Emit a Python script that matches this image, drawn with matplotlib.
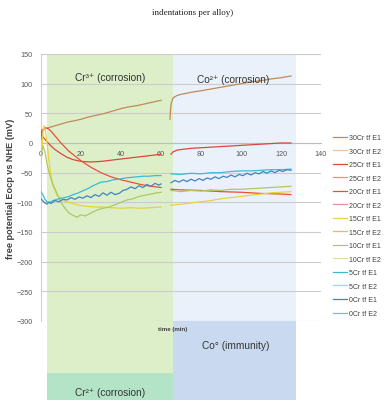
import numpy as np
import matplotlib
matplotlib.use("Agg")
import matplotlib.pyplot as plt
from matplotlib.patches import Rectangle

# ---------------- data ----------------
series_labels = ["30Cr tf E1", "30Cr tf E2", "25Cr tf E1", "25Cr tf E2",
                 "20Cr tf E1", "20Cr tf E2", "15Cr tf E1", "15Cr tf E2",
                 "10Cr tf E1", "10Cr tf E2", "5Cr tf E1", "5Cr tf E2",
                 "0Cr tf E1", "0Cr tf E2"]

# 30Cr tf E1 (two measurement segments)
cr30_e1_t1 = [0, 0.5, 1, 2, 3, 5, 8, 10, 13, 16, 20, 24, 28, 32, 36, 40, 44, 48, 52, 56, 60]
cr30_e1_v1 = [5, 18, 22, 24, 25, 27, 30, 32, 35, 37, 40, 44, 47, 50, 54, 58, 61, 63, 66, 69, 72]
cr30_e1_t2 = [64.5, 64.8, 65.2, 65.7, 66, 67, 68, 70, 73, 76, 80, 85, 90, 95, 100, 105, 110, 115, 120, 125]
cr30_e1_v2 = [40, 58, 68, 73, 76, 78, 80, 82, 84, 86, 88, 91, 94, 97, 100, 103, 105, 108, 110, 113]

# 25Cr tf E1
cr25_e1_t1 = [0, 0.5, 1, 2, 3, 5, 7, 10, 13, 16, 20, 25, 30, 35, 40, 45, 50, 55, 60]
cr25_e1_v1 = [22, 15, 10, 6, 2, -5, -11, -18, -24, -28, -31, -32, -31, -29, -27, -25, -23, -21, -19]
cr25_e1_t2 = [65, 66, 68, 70, 75, 80, 85, 90, 95, 100, 105, 110, 115, 120, 125]
cr25_e1_v2 = [-19, -15, -12, -11, -9, -8, -7, -6, -5, -4, -3, -2, -1, 0, 0]

# 20Cr tf E1
cr20_e1_t1 = [0, 0.5, 1, 2, 3, 4, 5, 6, 8, 10, 12, 14, 17, 20, 25, 30, 35, 40, 45, 50, 55, 60]
cr20_e1_v1 = [12, 18, 23, 26, 25, 23, 20, 16, 8, 0, -7, -14, -22, -30, -41, -50, -57, -62, -66, -70, -73, -75]
cr20_e1_t2 = [65, 70, 80, 90, 100, 110, 120, 125]
cr20_e1_v2 = [-78, -79, -80, -82, -83, -85, -86, -87]

# 15Cr tf E1
cr15_e1_t1 = [0, 0.5, 1, 1.5, 2, 3, 4, 5, 6, 8, 10, 12, 15, 18, 21, 24, 27, 30, 35, 40, 45, 50, 55, 60]
cr15_e1_v1 = [-35, -10, 20, 29, 25, 0, -30, -55, -72, -88, -94, -98, -101, -104, -106, -107, -108, -108,
              -109, -110, -109, -110, -109, -108]
cr15_e1_t2 = [65, 70, 75, 80, 85, 90, 95, 100, 105, 110, 115, 120, 125]
cr15_e1_v2 = [-105, -103, -101, -99, -97, -94, -92, -90, -88, -86, -84, -83, -82]

# 10Cr tf E1
cr10_e1_t1 = [0, 1, 2, 3, 4, 6, 8, 10, 12, 14, 16, 18, 20, 22, 25, 28, 31, 34, 37, 40, 43, 46, 49, 52, 55, 58, 60]
cr10_e1_v1 = [-20, -5, -15, -35, -50, -70, -85, -100, -110, -118, -122, -125, -121, -123, -118, -113, -110,
              -108, -104, -100, -96, -94, -90, -88, -86, -84, -83]
cr10_e1_t2 = [65, 70, 75, 80, 85, 90, 95, 100, 105, 110, 115, 120, 125]
cr10_e1_v2 = [-80, -82, -80, -81, -79, -80, -78, -78, -77, -76, -75, -74, -73]

# 5Cr tf E1
cr5_e1_t1 = [0, 1, 2, 3, 4, 5, 6, 8, 10, 12, 14, 16, 18, 20, 22, 24, 26, 28, 30, 33, 36, 39, 42, 45, 48, 51, 54, 57, 60]
cr5_e1_v1 = [-82, -88, -95, -99, -100, -99, -97, -95, -93, -92, -90, -87, -85, -82, -79, -76, -72, -69, -66,
             -65, -62, -61, -59, -58, -57, -56, -56, -55, -55]
cr5_e1_t2 = [65, 70, 75, 80, 85, 90, 95, 100, 105, 110, 115, 120, 125]
cr5_e1_v2 = [-52, -53, -51, -52, -50, -50, -48, -47, -47, -46, -45, -45, -44]

# 0Cr tf E1
cr0_e1_t1 = [0, 1, 2, 3, 4, 5, 7, 9, 11, 13, 15, 17, 19, 21, 23, 25, 27, 29, 31, 33, 35, 37, 39, 41, 43, 45,
             47, 49, 51, 53, 55, 57, 59, 60]
cr0_e1_v1 = [-94, -98, -101, -103, -100, -102, -97, -99, -95, -96, -92, -95, -91, -93, -89, -92, -87, -90,
             -84, -88, -83, -87, -85, -80, -78, -74, -77, -72, -75, -70, -73, -68, -71, -69]
cr0_e1_t2 = [65, 67, 69, 71, 73, 75, 77, 79, 81, 83, 85, 87, 89, 91, 93, 95, 97, 99, 101, 103, 105, 107,
             109, 111, 113, 115, 117, 119, 121, 123, 125]
cr0_e1_v2 = [-67, -63, -66, -62, -65, -61, -64, -60, -63, -59, -61, -57, -60, -56, -58, -54, -57, -53,
             -55, -51, -54, -50, -52, -48, -51, -47, -50, -46, -48, -45, -46]

xticks = [0, 20, 40, 60, 80, 100, 120, 140]
yticks = [-300, -250, -200, -150, -100, -50, 0, 50, 100, 150]

# ---------------- figure ----------------
W, H = 389, 406
fig = plt.figure(figsize=(W / 100, H / 100), dpi=100)
ax = fig.add_axes([41 / W, 1 - 322 / H, 280 / W, 267 / H])
ax.set_xlim(0, 140)
ax.set_ylim(-300, 150)

SANS = ["Liberation Sans", "DejaVu Sans"]

# region shading
ax.add_patch(Rectangle((3, -388), 63, 538, facecolor="#dcefc8", edgecolor="none", zorder=0.5, clip_on=False))
ax.add_patch(Rectangle((3, -433), 63, 45, facecolor="#b4e4c8", edgecolor="none", zorder=0.5, clip_on=False))
ax.add_patch(Rectangle((66, -300), 61.5, 450, facecolor="#eaf1fb", edgecolor="none", zorder=0.5, clip_on=False))
ax.add_patch(Rectangle((66, -433), 61.5, 133, facecolor="#c9d9ef", edgecolor="none", zorder=0.5, clip_on=False))

# gridlines
ax.set_yticks(yticks)
ax.set_xticks(xticks)
ax.yaxis.grid(True, color="#cccccc", linewidth=0.8, zorder=1)
ax.set_axisbelow("line")

for s in ["top", "right"]:
    ax.spines[s].set_visible(False)
ax.spines["bottom"].set_position(("data", 0))
ax.spines["bottom"].set_color("#bdbdbd")
ax.spines["bottom"].set_linewidth(0.8)
ax.spines["left"].set_color("#cfcfcf")
ax.spines["left"].set_linewidth(0.8)

ax.tick_params(axis="both", length=0, labelsize=5.2, labelcolor="#595959")
ax.tick_params(axis="y", pad=6)
ax.tick_params(axis="x", pad=5)
for lab in ax.get_xticklabels() + ax.get_yticklabels():
    lab.set_family(SANS)

colors = {
    "30Cr tf E1": "#c08a5a", "30Cr tf E2": "#f2c09a",
    "25Cr tf E1": "#e0453c", "25Cr tf E2": "#f08a84",
    "20Cr tf E1": "#e8503c", "20Cr tf E2": "#ec8c9c",
    "15Cr tf E1": "#ecd23a", "15Cr tf E2": "#f6b84a",
    "10Cr tf E1": "#b0c860", "10Cr tf E2": "#dfe0a0",
    "5Cr tf E1": "#38bcd4", "5Cr tf E2": "#96d8ee",
    "0Cr tf E1": "#3f84c4", "0Cr tf E2": "#86b4e2",
}

data = {
    "30Cr tf E1": (cr30_e1_t1, cr30_e1_v1, cr30_e1_t2, cr30_e1_v2),
    "25Cr tf E1": (cr25_e1_t1, cr25_e1_v1, cr25_e1_t2, cr25_e1_v2),
    "20Cr tf E1": (cr20_e1_t1, cr20_e1_v1, cr20_e1_t2, cr20_e1_v2),
    "15Cr tf E1": (cr15_e1_t1, cr15_e1_v1, cr15_e1_t2, cr15_e1_v2),
    "10Cr tf E1": (cr10_e1_t1, cr10_e1_v1, cr10_e1_t2, cr10_e1_v2),
    "5Cr tf E1": (cr5_e1_t1, cr5_e1_v1, cr5_e1_t2, cr5_e1_v2),
    "0Cr tf E1": (cr0_e1_t1, cr0_e1_v1, cr0_e1_t2, cr0_e1_v2),
}

handles = []
for lab in series_labels:
    if lab in data:
        t1, v1, t2, v2 = data[lab]
        t = list(t1) + [np.nan] + list(t2)
        v = list(v1) + [np.nan] + list(v2)
    else:
        t, v = [], []
    h, = ax.plot(t, v, color=colors[lab], linewidth=0.9, label=lab, zorder=3)
    handles.append(h)

# region labels
ax.text(34.5, 111, "Cr³⁺ (corrosion)", fontsize=7.3, family=SANS, color="#333333", ha="center", va="center")
ax.text(96, 108, "Co²⁺ (corrosion)", fontsize=7.3, family=SANS, color="#333333", ha="center", va="center")
ax.text(97.5, -341, "Co° (immunity)", fontsize=7.3, family=SANS, color="#333333", ha="center", va="center",
        clip_on=False)
ax.text(34.5, -420, "Cr²⁺ (corrosion)", fontsize=7.3, family=SANS, color="#333333", ha="center", va="center",
        clip_on=False)

ax.text(66, -312, "time (min)", fontsize=4.4, family=SANS, fontweight="bold", color="#404040",
        ha="center", va="center", clip_on=False)
ax.set_ylabel("free potential Eocp vs NHE (mV)", fontsize=6.6, family=SANS, fontweight="bold",
              color="#404040", labelpad=1.2)

fig.legend(handles=handles, labels=series_labels, loc="center left", bbox_to_anchor=(333 / W, 1 - 226.5 / H),
           frameon=False, handlelength=2.0, handletextpad=0.25, labelspacing=0.94,
           borderpad=0, borderaxespad=0, prop={"family": SANS, "size": 5.0})
for txt in fig.legends[0].get_texts():
    txt.set_color("#404040")

fig.text(193 / W, 1 - 13 / H, "indentations per alloy)", fontsize=6.5, family=["Liberation Serif", "DejaVu Serif"],
         ha="center", va="center", color="#222222")

fig.savefig("out.png", dpi=100)
